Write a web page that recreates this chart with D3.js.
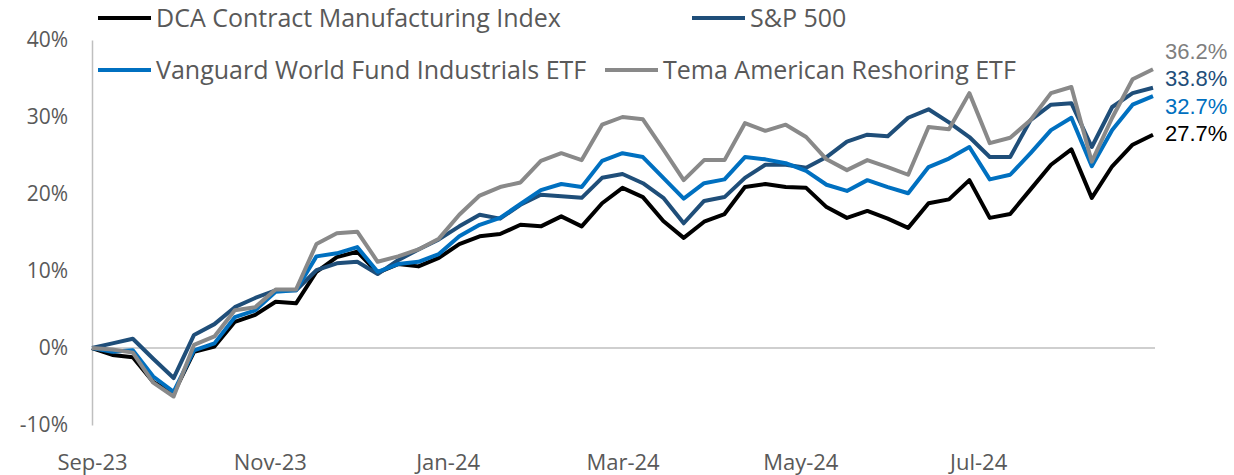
<!DOCTYPE html>
<html lang="en">
<head>
<meta charset="utf-8">
<title>Reshoring performance</title>
<script src="https://d3js.org/d3.v7.min.js"></script>
<style>
  body { margin: 0; background: #fff; }
  text { font-family: "Open Sans", "DejaVu Sans", sans-serif; }
  .line { fill: none; stroke-width: 4px; stroke-linejoin: round; }
  .endlabel { font-family: "Liberation Sans", Arial, sans-serif; }
</style>
</head>
<body>
<script>
// weekly closes, Fridays Sep 1 2023 .. Aug 30 2024, cumulative return in %
var weeks = d3.timeFriday.range(new Date(2023, 8, 1), new Date(2024, 7, 31));

var dcaIndex = [0, -0.9, -1.2, -4.4, -5.9, -0.5, 0.2, 3.4, 4.3, 6.0, 5.8, 9.9, 11.8, 12.5, 9.8, 10.9, 10.6, 11.7,
  13.5, 14.5, 14.8, 16.0, 15.8, 17.1, 15.8, 18.8, 20.8, 19.6, 16.5, 14.3, 16.4, 17.4, 20.9, 21.3, 20.9, 20.8,
  18.3, 16.9, 17.8, 16.8, 15.6, 18.8, 19.3, 21.8, 16.9, 17.4, 20.6, 23.8, 25.8, 19.5, 23.6, 26.4, 27.7];
var sp500 = [0, 0.6, 1.2, -1.4, -3.9, 1.7, 3.1, 5.3, 6.5, 7.5, 7.5, 10.1, 11.0, 11.2, 9.6, 11.4, 12.8, 14.1,
  15.8, 17.3, 16.8, 18.6, 19.9, 19.7, 19.5, 22.1, 22.6, 21.4, 19.5, 16.2, 19.1, 19.6, 22.1, 23.8, 23.8, 23.4,
  24.8, 26.8, 27.7, 27.5, 29.9, 31.0, 29.3, 27.4, 24.8, 24.8, 29.6, 31.6, 31.8, 26.1, 31.3, 33.1, 33.8];
var vanguardInd = [0, -0.5, -0.3, -3.7, -5.7, -0.3, 0.6, 4.0, 4.9, 7.3, 7.5, 11.9, 12.3, 13.1, 9.9, 10.9, 11.2, 12.2,
  14.5, 16.0, 16.9, 18.7, 20.5, 21.3, 20.9, 24.3, 25.3, 24.8, 22.1, 19.4, 21.4, 21.9, 24.8, 24.5, 24.0, 23.0,
  21.2, 20.4, 21.8, 20.9, 20.1, 23.5, 24.6, 26.1, 21.9, 22.5, 25.3, 28.3, 29.9, 23.6, 28.3, 31.6, 32.7];
var temaReshoring = [0, -0.2, -0.6, -4.5, -6.3, 0.4, 1.5, 4.9, 5.3, 7.6, 7.6, 13.5, 14.9, 15.1, 11.2, 11.9, 12.8, 14.2,
  17.3, 19.8, 20.9, 21.5, 24.3, 25.3, 24.4, 29.0, 30.0, 29.7, 25.8, 21.8, 24.4, 24.4, 29.2, 28.2, 29.0, 27.4,
  24.5, 23.1, 24.4, 23.5, 22.5, 28.7, 28.4, 33.1, 26.6, 27.3, 29.6, 33.1, 33.9, 24.2, 29.9, 34.9, 36.2];

var seriesNames = ["DCA Contract Manufacturing Index", "S&P 500", "Vanguard World Fund Industrials ETF", "Tema American Reshoring ETF"];
var seriesColors = ["#000000", "#1f4e79", "#0070c0", "#898989"];
var labelColors = ["#000000", "#1f4e79", "#0070c0", "#7f7f7f"];
var seriesValues = [dcaIndex, sp500, vanguardInd, temaReshoring];
var yTicks = [-10, 0, 10, 20, 30, 40];

var width = 1234, height = 475;
var margin = {top: 40, right: 81, bottom: 50, left: 92};

var svg = d3.select("body").append("svg")
  .attr("width", width)
  .attr("height", height);

var x = d3.scaleTime()
  .domain([weeks[0], weeks[weeks.length - 1]])
  .range([margin.left, width - margin.right]);
var y = d3.scaleLinear()
  .domain([-10, 40])
  .range([height - margin.bottom, margin.top]);

// y axis: line + labels only
var yAxis = svg.append("g")
  .attr("transform", "translate(" + margin.left + ",0)")
  .call(d3.axisLeft(y).tickValues(yTicks).tickSize(0).tickPadding(24)
    .tickFormat(function(d) { return d + "%"; }));
yAxis.select(".domain").attr("stroke", "#bfbfbf").attr("stroke-width", 1.5);
yAxis.selectAll("text").attr("fill", "#595959").style("font-size", "21px")
  .style("font-family", "'Open Sans', sans-serif");

// zero line
svg.append("line")
  .attr("x1", margin.left).attr("x2", width - margin.right + 2)
  .attr("y1", y(0)).attr("y2", y(0))
  .attr("stroke", "#bfbfbf").attr("stroke-width", 1.5);

// x labels along the bottom
var xAxis = svg.append("g")
  .attr("transform", "translate(0,462)")
  .call(d3.axisBottom(x).ticks(d3.timeMonth.every(2)).tickSize(0).tickPadding(0)
    .tickFormat(d3.timeFormat("%b-%y")));
xAxis.select(".domain").remove();
xAxis.selectAll("text").attr("fill", "#595959").attr("y", 0).attr("dy", "0.35em")
  .style("font-size", "22px").style("font-family", "'Open Sans', sans-serif");

var line = d3.line()
  .x(function(d, i) { return x(weeks[i]); })
  .y(function(d) { return y(d); });

seriesValues.forEach(function(vals, k) {
  svg.append("path")
    .datum(vals)
    .attr("class", "line")
    .attr("stroke", seriesColors[k])
    .attr("d", line);
});

// end labels, stacked upward from the lowest one
var last = seriesValues.map(function(v, k) { return {k: k, v: v[v.length - 1]}; })
  .sort(function(a, b) { return a.v - b.v; });
var labelY = y(last[0].v) - 1;
last.forEach(function(d, j) {
  if (j > 0) labelY = labelY - 27.5;
  svg.append("text")
    .attr("class", "endlabel")
    .attr("x", x(weeks[weeks.length - 1]) + 12)
    .attr("y", labelY)
    .attr("dy", "0.35em")
    .attr("fill", labelColors[d.k])
    .style("font-size", "22px")
    .text(d.v.toFixed(1) + "%");
});

// legend
var legendPos = [[98, 18], [692, 18], [98, 70], [605, 70]];
seriesNames.forEach(function(name, k) {
  var g = svg.append("g").attr("transform", "translate(" + legendPos[k][0] + "," + legendPos[k][1] + ")");
  g.append("line").attr("x1", 0).attr("x2", 53).attr("y1", 0).attr("y2", 0)
    .attr("stroke", seriesColors[k]).attr("stroke-width", 4);
  g.append("text").attr("x", 58).attr("dy", "0.35em")
    .attr("fill", "#595959").style("font-size", "25px")
    .text(name);
});
</script>
</body>
</html>
